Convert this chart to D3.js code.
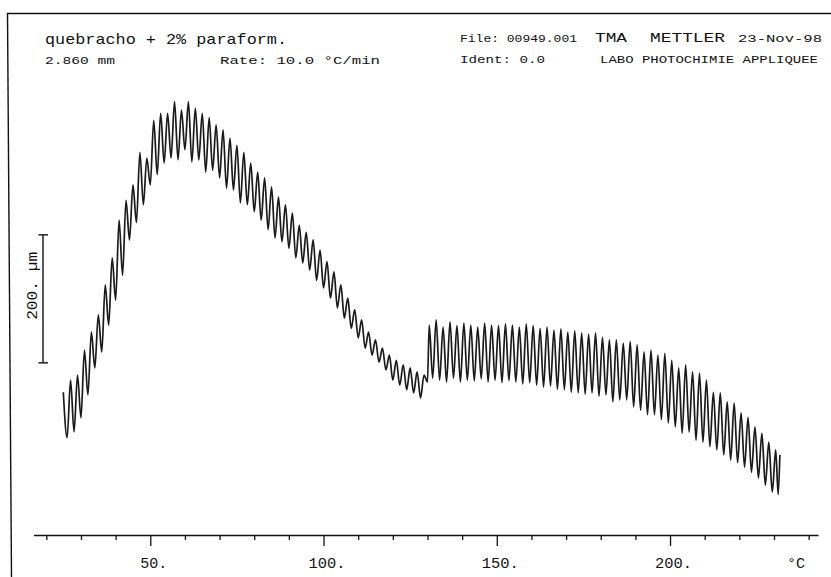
<!DOCTYPE html>
<html>
<head>
<meta charset="utf-8">
<script src="https://cdn.jsdelivr.net/npm/d3@7/dist/d3.min.js"></script>
<style>
  html, body { margin: 0; padding: 0; background: #fff; }
  svg { display: block; }
  text { font-family: "Liberation Mono", "DejaVu Sans Mono", monospace; fill: #111; }
</style>
</head>
<body>
<svg id="chart" width="831" height="577"></svg>
<script>
// ---- DATA ----
// temperature (°C) of each turning point of the oscillating trace
const tempC = [
  24.9, 26, 27, 28, 29, 30, 31, 32, 33, 34, 35, 36, 37, 38, 39, 40, 41, 42, 43, 44,
  45, 46, 47, 48, 49, 50, 51, 52, 53, 54, 55, 56, 57, 58, 59, 60, 61, 62, 63, 64,
  65, 66, 67, 68, 69, 70, 71, 72, 73, 74, 75, 76, 77, 78, 79, 80, 81, 82, 83, 84,
  85, 86, 87, 88, 89, 90, 91, 92, 93, 94, 95, 96, 97, 98, 99, 100, 101, 102, 103, 104,
  105, 106, 107, 108, 109, 110, 111, 112, 113, 114, 115, 116, 117, 118, 119, 120, 121, 122, 123, 124,
  125, 126, 127, 128, 129, 130,
  130.5, 131.5, 132.5, 133.5, 134.5, 135.5, 136.5, 137.5, 138.5, 139.5, 140.5, 141.5, 142.5, 143.5,
  144.5, 145.5, 146.5, 147.5, 148.5, 149.5, 150.5, 151.5, 152.5, 153.5, 154.5, 155.5, 156.5, 157.5,
  158.5, 159.5, 160.5, 161.5, 162.5, 163.5, 164.5, 165.5, 166.5, 167.5, 168.5, 169.5, 170.5, 171.5,
  172.5, 173.5, 174.5, 175.5, 176.5, 177.5, 178.5, 179.5, 180.5, 181.5, 182.5, 183.5, 184.5, 185.5,
  186.5, 187.5, 188.5, 189.5, 190.5, 191.5, 192.5, 193.5, 194.5, 195.5, 196.5, 197.5, 198.5, 199.5,
  200.5, 201.5, 202.5, 203.5, 204.5, 205.5, 206.5, 207.5, 208.5, 209.5, 210.5, 211.5, 212.5, 213.5,
  214.5, 215.5, 216.5, 217.5, 218.5, 219.5, 220.5, 221.5, 222.5, 223.5, 224.5, 225.5, 226.5, 227.5,
  228.5, 229.5, 230.5, 231.2, 231.7
];
// probe displacement (µm, relative) at each turning point
const dispUm = [
  223, 152, 242, 161, 250, 183, 289, 219, 317, 261, 344, 286, 391, 328, 433, 367, 492, 406, 523, 461,
  547, 488, 598, 516, 589, 547, 648, 563, 659, 581, 659, 589, 677, 586, 664, 602, 677, 583, 667, 586,
  659, 567, 652, 570, 641, 558, 633, 542, 620, 539, 609, 519, 598, 516, 581, 505, 567, 492, 558, 477,
  544, 464, 528, 458, 516, 448, 503, 433, 484, 425, 473, 414, 461, 398, 445, 386, 427, 370, 411, 355,
  391, 339, 370, 323, 352, 308, 336, 292, 317, 281, 305, 270, 292, 258, 281, 242, 273, 234, 266, 227,
  261, 222, 255, 214, 250, 239,
  328, 245, 336, 242, 325, 239, 333, 245, 327, 239, 331, 242, 328, 241,
  325, 244, 331, 239, 328, 242, 327, 238, 330, 241, 328, 239, 325, 236,
  330, 238, 327, 234, 323, 231, 325, 233, 320, 228, 322, 227, 317, 223,
  319, 222, 316, 220, 314, 222, 316, 217, 309, 219, 305, 208, 305, 211,
  300, 211, 302, 200, 297, 195, 286, 188, 289, 188, 281, 180, 284, 175,
  273, 169, 261, 159, 266, 161, 255, 148, 253, 145, 242, 138, 223, 133,
  222, 125, 208, 117, 206, 113, 191, 106, 184, 98, 169, 89, 159, 78,
  145, 67, 133, 63, 125
];
// axis ticks and labels
const minorTicks = [20, 30, 40, 60, 70, 80, 90, 110, 120, 130, 140, 160, 170, 180, 190, 210, 220, 230, 240];
const majorTicks = [50, 100, 150, 200];
const majorLabels = ["50.", "100.", "150.", "200."];
const scaleBarUm = [0, 200];       // scale bar: 200 µm
const scaleBarBaseUm = 269;        // level (µm) where the scale bar starts
const headerLeft = ["quebracho + 2% paraform.", "2.860 mm", "Rate: 10.0 °C/min"];
const headerRight = ["File: 00949.001", "TMA", "METTLER", "23-Nov-98", "Ident: 0.0", "LABO PHOTOCHIMIE APPLIQUEE"];
const unitLabel = "°C";
const barLabel = "200. µm";

// ---- DRAWING ----
const svg = d3.select("#chart");
const x = d3.scaleLinear().domain([16.3, 242.7]).range([33.5, 818]);
const y = d3.scaleLinear().domain([0, 200]).range([535, 407]);

// frame lines (plotter paper edge)
svg.append("line").attr("x1", 7).attr("y1", 13.5).attr("x2", 831).attr("y2", 13.5)
  .attr("stroke", "#111").attr("stroke-width", 1.4);
svg.append("line").attr("x1", 7.5).attr("y1", 13).attr("x2", 11.5).attr("y2", 577)
  .attr("stroke", "#111").attr("stroke-width", 1.4);

// header texts
function txt(s, x0, yb, size, len) {
  const t = svg.append("text").attr("x", x0).attr("y", yb).attr("font-size", size).text(s);
  if (len) t.attr("textLength", len).attr("lengthAdjust", "spacingAndGlyphs");
  return t;
}
txt(headerLeft[0], 45, 44, 15, 242);
txt(headerLeft[1], 45, 64, 10, 70);
txt(headerLeft[2], 220, 64, 10, 160);
txt(headerRight[0], 460, 42, 10, 117);
txt(headerRight[1], 595, 42, 13, 32);
txt(headerRight[2], 650, 42, 13, 75);
txt(headerRight[3], 738, 42, 10, 84);
txt(headerRight[4], 460, 63, 10, 85);
txt(headerRight[5], 600, 63, 10, 218);

// x axis
const axisG = svg.append("g").attr("transform", "translate(0,535)");
axisG.call(d3.axisBottom(x).tickValues(minorTicks).tickSize(5).tickSizeOuter(0).tickFormat(""));
const majG = svg.append("g").attr("transform", "translate(0,535)");
majG.call(d3.axisBottom(x).tickValues(majorTicks).tickSize(11).tickSizeOuter(0).tickFormat(""));
majG.select(".domain").remove();
svg.selectAll(".domain, .tick line").attr("stroke", "#111").attr("stroke-width", 1.3);

majorTicks.forEach((t, i) => {
  const lab = majorLabels[i];
  const nd = lab.length - 1;
  txt(lab, x(t) - nd * 5, 568, 15, nd * 10 + 7);
});
txt(unitLabel, 787, 568, 15, 18);

// scale bar (200 µm)
const barX = 43;
const yTop = y(scaleBarBaseUm + scaleBarUm[1]);
const yBot = y(scaleBarBaseUm + scaleBarUm[0]);
svg.append("line").attr("x1", barX).attr("x2", barX).attr("y1", yTop).attr("y2", yBot)
  .attr("stroke", "#111").attr("stroke-width", 1.4);
[yTop, yBot].forEach(yy => {
  svg.append("line").attr("x1", barX - 4.5).attr("x2", barX + 5).attr("y1", yy).attr("y2", yy)
    .attr("stroke", "#111").attr("stroke-width", 1.4);
});
svg.append("text")
  .attr("transform", `translate(37,${(yTop + yBot) / 2 - 13}) rotate(-90)`)
  .attr("text-anchor", "middle").attr("font-size", 14)
  .attr("textLength", 68).attr("lengthAdjust", "spacingAndGlyphs")
  .text(barLabel);

// trace
const pts = tempC.map((t, i) => [t, dispUm[i]]);
const line = d3.line().x(d => x(d[0])).y(d => y(d[1])).curve(d3.curveMonotoneX);
svg.append("path").datum(pts).attr("d", line)
  .attr("fill", "none").attr("stroke", "#1a1a1a").attr("stroke-width", 1.7)
  .attr("stroke-linejoin", "round");
</script>
</body>
</html>
